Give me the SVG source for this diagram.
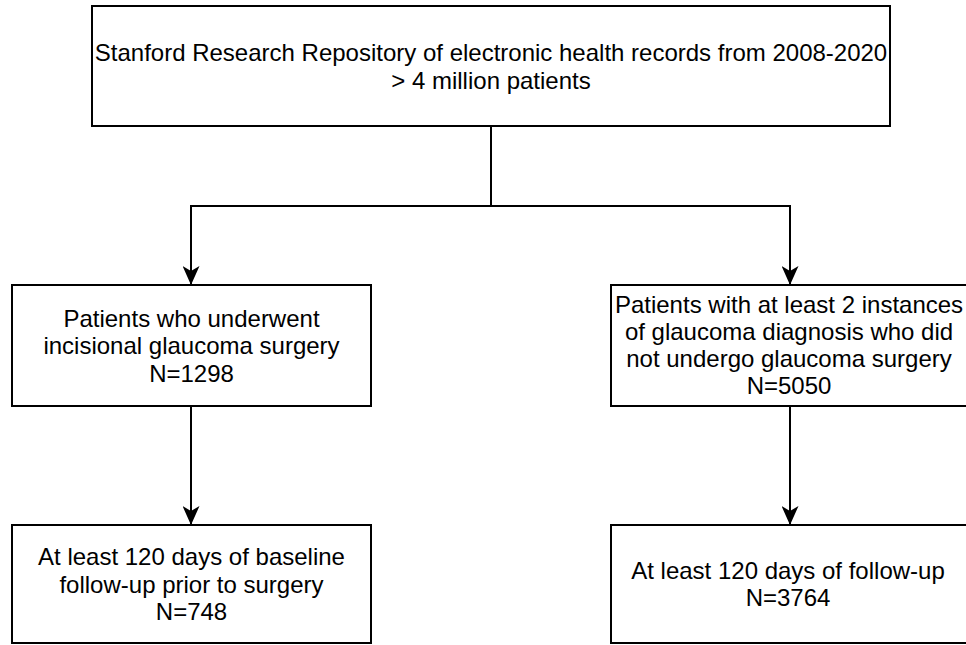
<svg xmlns="http://www.w3.org/2000/svg" width="966" height="645" viewBox="0 0 966 645">
  <style>
    .box { fill: #ffffff; stroke: #000000; stroke-width: 2; }
    .lbl { font-family: "Liberation Sans", Arial, Helvetica, sans-serif; font-size: 24px; fill: #000000; text-anchor: middle; }
    .edge { fill: none; stroke: #000000; stroke-width: 2; marker-end: url(#arrow); }
  </style>
  <defs>
    <marker id="arrow" viewBox="0 0 19 17" refX="19" refY="8.5" markerWidth="19" markerHeight="17" markerUnits="userSpaceOnUse" orient="auto">
      <path d="M0,0 L19,8.5 L0,17 L5,8.5 Z" fill="#000000"/>
    </marker>
  </defs>
  <rect width="966" height="645" fill="#ffffff"/>

  <g id="connectors">
    <path class="edge" d="M491,126 V206 H191 V285"/>
    <path class="edge" d="M491,126 V206 H790 V285"/>
    <path class="edge" d="M191,406 V525"/>
    <path class="edge" d="M790,406 V525"/>
  </g>

  <g id="repository">
    <rect class="box" x="92" y="6" width="798" height="120"/>
    <text class="lbl" x="491" y="60.5">Stanford Research Repository of electronic health records from 2008-2020</text>
    <text class="lbl" x="491" y="88.5">&gt; 4 million patients</text>
  </g>

  <g id="surgery">
    <rect class="box" x="12" y="285" width="359" height="121"/>
    <text class="lbl" x="191.5" y="326.5">Patients who underwent</text>
    <text class="lbl" x="191.5" y="354">incisional glaucoma surgery</text>
    <text class="lbl" x="191.5" y="381.5">N=1298</text>
  </g>

  <g id="no-surgery">
    <rect class="box" x="611" y="285" width="359" height="121"/>
    <text class="lbl" x="789" y="313">Patients with at least 2 instances</text>
    <text class="lbl" x="789" y="340">of glaucoma diagnosis who did</text>
    <text class="lbl" x="789" y="367">not undergo glaucoma surgery</text>
    <text class="lbl" x="789" y="394">N=5050</text>
  </g>

  <g id="baseline-followup">
    <rect class="box" x="12" y="525" width="359" height="118"/>
    <text class="lbl" x="191.5" y="565">At least 120 days of baseline</text>
    <text class="lbl" x="191.5" y="592.5">follow-up prior to surgery</text>
    <text class="lbl" x="191.5" y="620">N=748</text>
  </g>

  <g id="followup">
    <rect class="box" x="611" y="525" width="359" height="118"/>
    <text class="lbl" x="788" y="578.5">At least 120 days of follow-up</text>
    <text class="lbl" x="788" y="606">N=3764</text>
  </g>
</svg>
